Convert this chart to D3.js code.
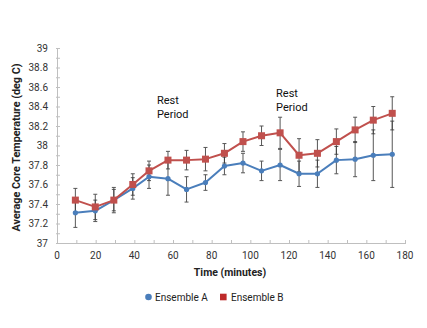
<!DOCTYPE html>
<html>
<head>
<meta charset="utf-8">
<script src="https://cdn.jsdelivr.net/npm/d3@7"></script>
<style>
  html, body { margin: 0; padding: 0; background: #fff; }
  svg { display: block; font-family: Roboto, "Noto Sans", sans-serif; }
</style>
</head>
<body>
<svg id="chart" width="427" height="328"></svg>
<script>
// Sample times (minutes)
const times = [9.5, 19.8, 29.4, 39.2, 47.6, 57.4, 67.0, 76.8, 86.6, 96.2, 105.8, 115.4, 125.2, 134.7, 144.5, 154.2, 163.6, 173.4];

// Ensemble A: mean core temperature and error (deg C)
const ensembleA = [37.31, 37.33, 37.44, 37.56, 37.68, 37.66, 37.55, 37.62, 37.79, 37.82, 37.74, 37.80, 37.71, 37.71, 37.85, 37.86, 37.90, 37.91];
const errorA    = [0.15, 0.11, 0.13, 0.11, 0.12, 0.17, 0.13, 0.08, 0.09, 0.10, 0.10, 0.16, 0.13, 0.14, 0.14, 0.18, 0.26, 0.34];

// Ensemble B: mean core temperature and error (deg C)
const ensembleB = [37.44, 37.37, 37.44, 37.60, 37.74, 37.85, 37.85, 37.86, 37.92, 38.04, 38.10, 38.13, 37.90, 37.92, 38.04, 38.16, 38.26, 38.33];
const errorB    = [0.12, 0.13, 0.11, 0.11, 0.10, 0.09, 0.10, 0.12, 0.10, 0.10, 0.10, 0.16, 0.17, 0.14, 0.13, 0.13, 0.14, 0.17];

// Axis ticks
const xTickLabels = [0, 20, 40, 60, 80, 100, 120, 140, 160, 180];
const yTickLabels = [37, 37.2, 37.4, 37.6, 37.8, 38, 38.2, 38.4, 38.6, 38.8, 39];

// Annotations
const notes = [
  { t: 51.7, v: 38.425, lines: ["Rest", "Period"] },
  { t: 113.3, v: 38.497, lines: ["Rest", "Period"] }
];

const series = [
  { name: "Ensemble A", values: ensembleA, errors: errorA, color: "#4a7ebb", marker: "circle" },
  { name: "Ensemble B", values: ensembleB, errors: errorB, color: "#c0504d", marker: "square" }
];

const svg = d3.select("#chart");
const margin = { left: 57, right: 22, top: 48, bottom: 85 };
const W = 427, H = 328;

const x = d3.scaleLinear().domain([0, 180]).range([margin.left, W - margin.right]);
const y = d3.scaleLinear().domain([37, 39]).range([H - margin.bottom, margin.top]);

const axisColor = "#bfbfbf";
const labelColor = "#333";

// X axis
const xAxis = svg.append("g").attr("transform", `translate(0,${y(37)})`);
xAxis.call(d3.axisBottom(x).tickValues(d3.range(0, 181, 10)).tickSize(0).tickFormat(""));
xAxis.select(".domain").attr("stroke", axisColor);
xAxis.selectAll(".tick").append("line")
  .attr("y1", -3).attr("y2", 1).attr("stroke", axisColor);
svg.append("g").selectAll("text").data(xTickLabels).join("text")
  .attr("x", d => x(d)).attr("y", y(37) + 16)
  .attr("text-anchor", "middle")
  .attr("font-size", 10).attr("fill", labelColor)
  .text(d => d);

// Y axis
const yAxis = svg.append("g").attr("transform", `translate(${x(0)},0)`);
yAxis.call(d3.axisLeft(y).tickValues(d3.range(0, 21).map(i => 37 + i * 0.1)).tickSize(0).tickFormat(""));
yAxis.select(".domain").attr("stroke", axisColor);
yAxis.selectAll(".tick").append("line")
  .attr("x1", -1).attr("x2", 3).attr("stroke", axisColor);
svg.append("g").selectAll("text").data(yTickLabels).join("text")
  .attr("x", x(0) - 9).attr("y", d => y(d) + 3.5)
  .attr("text-anchor", "end")
  .attr("font-size", 10).attr("fill", labelColor)
  .text(d => d3.format("~g")(d));

// Axis titles
svg.append("text")
  .attr("x", 230).attr("y", 276)
  .attr("text-anchor", "middle")
  .attr("font-size", 10.5).attr("font-weight", "bold").attr("fill", "#222")
  .text("Time (minutes)");
svg.append("text")
  .attr("transform", `translate(20,${(y(37) + y(39)) / 2 + 2}) rotate(-90)`)
  .attr("text-anchor", "middle")
  .attr("font-size", 10.8).attr("font-weight", "bold").attr("fill", "#222")
  .text("Average Core Temperature (deg C)");

// Error bars
const errG = svg.append("g");
series.forEach(s => {
  const pts = times.map((t, i) => ({ t, v: s.values[i], e: s.errors[i] }));
  const g = errG.append("g").attr("stroke", "#3a3a3a").attr("stroke-width", 1).attr("opacity", 0.85);
  g.selectAll("line.v").data(pts).join("line").attr("class", "v")
    .attr("x1", d => x(d.t)).attr("x2", d => x(d.t))
    .attr("y1", d => y(d.v - d.e)).attr("y2", d => y(d.v + d.e));
  g.selectAll("line.top").data(pts).join("line").attr("class", "top")
    .attr("x1", d => x(d.t) - 2).attr("x2", d => x(d.t) + 2)
    .attr("y1", d => y(d.v + d.e)).attr("y2", d => y(d.v + d.e));
  g.selectAll("line.bot").data(pts).join("line").attr("class", "bot")
    .attr("x1", d => x(d.t) - 2).attr("x2", d => x(d.t) + 2)
    .attr("y1", d => y(d.v - d.e)).attr("y2", d => y(d.v - d.e));
});

// Lines and markers
const line = d3.line().x(d => x(d.t)).y(d => y(d.v));
series.forEach(s => {
  const pts = times.map((t, i) => ({ t, v: s.values[i] }));
  svg.append("path").datum(pts)
    .attr("d", line).attr("fill", "none")
    .attr("stroke", s.color).attr("stroke-width", 2).attr("stroke-linejoin", "round");
  const m = svg.append("g").attr("fill", s.color);
  if (s.marker === "circle") {
    m.selectAll("circle").data(pts).join("circle")
      .attr("cx", d => x(d.t)).attr("cy", d => y(d.v)).attr("r", 2.6);
  } else {
    m.selectAll("rect").data(pts).join("rect")
      .attr("x", d => x(d.t) - 3.5).attr("y", d => y(d.v) - 3.5)
      .attr("width", 7).attr("height", 7);
  }
});

// Annotations
notes.forEach(n => {
  const t = svg.append("text")
    .attr("x", x(n.t)).attr("y", y(n.v))
    .attr("font-size", 11).attr("fill", "#111");
  n.lines.forEach((ln, i) => t.append("tspan").attr("x", x(n.t)).attr("dy", i === 0 ? 0 : 14).text(ln));
});

// Legend
const legend = svg.append("g").attr("transform", "translate(0,297)");
legend.append("circle").attr("cx", 148.5).attr("cy", 0).attr("r", 3.3).attr("fill", series[0].color);
legend.append("text").attr("x", 155).attr("y", 3.5).attr("font-size", 10).attr("fill", "#222").text(series[0].name);
legend.append("rect").attr("x", 220).attr("y", -3.3).attr("width", 6.6).attr("height", 6.6).attr("fill", "#be2a2a");
legend.append("text").attr("x", 231).attr("y", 3.5).attr("font-size", 10).attr("fill", "#222").text(series[1].name);
</script>
</body>
</html>
